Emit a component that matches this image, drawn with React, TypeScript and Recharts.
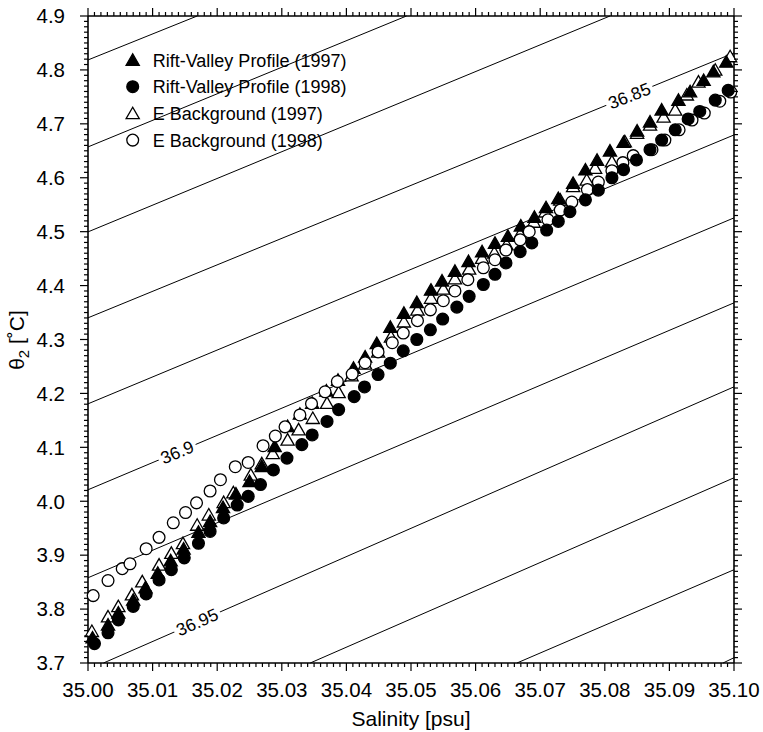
import { Label, Legend, Scatter, ScatterChart, XAxis, YAxis } from "recharts";

const FONT = '"Liberation Sans", Arial, Helvetica, sans-serif';

// Rift-Valley Profile (1997): salinity [psu] / theta2 [degC]
const RV97_S = [35.0007, 35.0031, 35.0047, 35.007, 35.0089, 35.0108, 35.0128, 35.0148, 35.0171, 35.0189, 35.0209, 35.0229, 35.025, 35.0269, 35.0289, 35.0309, 35.0328, 35.0347, 35.0369, 35.0387, 35.0411, 35.0429, 35.0447, 35.0468, 35.0489, 35.0509, 35.0531, 35.0548, 35.0568, 35.0589, 35.061, 35.063, 35.065, 35.067, 35.0691, 35.0709, 35.0728, 35.0751, 35.077, 35.0788, 35.0808, 35.0829, 35.085, 35.087, 35.0888, 35.0914, 35.0932, 35.0953, 35.0968, 35.0988];
const RV97_T = [3.747, 3.771, 3.793, 3.817, 3.84, 3.867, 3.89, 3.912, 3.943, 3.963, 3.989, 4.014, 4.037, 4.065, 4.102, 4.139, 4.162, 4.182, 4.205, 4.225, 4.247, 4.268, 4.293, 4.323, 4.349, 4.369, 4.392, 4.409, 4.427, 4.445, 4.463, 4.479, 4.492, 4.511, 4.527, 4.545, 4.562, 4.59, 4.615, 4.633, 4.65, 4.666, 4.687, 4.704, 4.726, 4.744, 4.76, 4.781, 4.797, 4.815];

// Rift-Valley Profile (1998)
const RV98_S = [35.001, 35.0031, 35.0047, 35.007, 35.009, 35.011, 35.0129, 35.0149, 35.0171, 35.0189, 35.021, 35.0231, 35.0248, 35.0267, 35.0287, 35.0308, 35.0331, 35.0347, 35.037, 35.0388, 35.0412, 35.0428, 35.0449, 35.0468, 35.0488, 35.0509, 35.053, 35.0549, 35.0571, 35.059, 35.0612, 35.063, 35.0647, 35.0669, 35.0687, 35.071, 35.0728, 35.0746, 35.077, 35.079, 35.0811, 35.0829, 35.0849, 35.087, 35.0888, 35.0909, 35.0929, 35.0947, 35.0971, 35.0991];
const RV98_T = [3.736, 3.756, 3.78, 3.805, 3.828, 3.854, 3.873, 3.895, 3.922, 3.944, 3.969, 3.993, 4.009, 4.031, 4.058, 4.08, 4.105, 4.123, 4.148, 4.17, 4.194, 4.212, 4.235, 4.256, 4.279, 4.3, 4.318, 4.338, 4.36, 4.38, 4.402, 4.421, 4.442, 4.463, 4.479, 4.503, 4.519, 4.537, 4.559, 4.577, 4.6, 4.615, 4.633, 4.652, 4.67, 4.689, 4.709, 4.723, 4.744, 4.762];

// E Background (1997)
const EB97_S = [35.0006, 35.0031, 35.0047, 35.0068, 35.0084, 35.011, 35.0129, 35.0147, 35.0169, 35.0187, 35.021, 35.0225, 35.0252, 35.0269, 35.0286, 35.0309, 35.0326, 35.0348, 35.037, 35.0388, 35.0408, 35.0429, 35.0449, 35.0469, 35.0489, 35.051, 35.0531, 35.055, 35.0568, 35.059, 35.061, 35.0629, 35.0648, 35.0669, 35.069, 35.0708, 35.0731, 35.0751, 35.0772, 35.0785, 35.0811, 35.0831, 35.085, 35.087, 35.0891, 35.0909, 35.0927, 35.0945, 35.0971, 35.0994];
const EB97_T = [3.759, 3.786, 3.805, 3.827, 3.851, 3.882, 3.904, 3.922, 3.956, 3.975, 3.998, 4.016, 4.049, 4.07, 4.089, 4.114, 4.133, 4.154, 4.182, 4.202, 4.233, 4.255, 4.277, 4.305, 4.333, 4.355, 4.377, 4.394, 4.413, 4.431, 4.451, 4.461, 4.476, 4.496, 4.518, 4.537, 4.559, 4.584, 4.596, 4.618, 4.63, 4.667, 4.683, 4.698, 4.713, 4.726, 4.754, 4.778, 4.8, 4.825];

// E Background (1998)
const EB98_S = [35.0008, 35.0031, 35.0053, 35.0065, 35.009, 35.011, 35.0132, 35.0151, 35.0168, 35.0189, 35.0205, 35.0228, 35.0248, 35.0271, 35.029, 35.0305, 35.0328, 35.0346, 35.0367, 35.0386, 35.0409, 35.0429, 35.0449, 35.0471, 35.0488, 35.051, 35.053, 35.055, 35.0568, 35.0588, 35.0612, 35.063, 35.0647, 35.0669, 35.0683, 35.0712, 35.0731, 35.0749, 35.0773, 35.079, 35.0811, 35.0828, 35.0844, 35.0873, 35.0893, 35.0915, 35.0935, 35.0954, 35.0978, 35.0995];
const EB98_T = [3.825, 3.853, 3.875, 3.884, 3.912, 3.933, 3.96, 3.979, 3.997, 4.019, 4.04, 4.064, 4.072, 4.103, 4.121, 4.138, 4.16, 4.181, 4.203, 4.222, 4.236, 4.257, 4.277, 4.294, 4.312, 4.335, 4.355, 4.372, 4.39, 4.411, 4.433, 4.448, 4.466, 4.485, 4.5, 4.522, 4.54, 4.555, 4.578, 4.592, 4.613, 4.628, 4.641, 4.652, 4.67, 4.689, 4.707, 4.72, 4.742, 4.759];

// isopycnals (sigma2), ends where they meet the frame
const ISO_LEVELS = [36.775, 36.8, 36.825, 36.85, 36.875, 36.9, 36.925, 36.95, 36.975, 37.0, 37.025];
const ISO_S0 = [35.0, 35.0, 35.0, 35.0, 35.0, 35.0, 35.0, 35.0024, 35.0344, 35.0664, 35.0983];
const ISO_T0 = [4.8185, 4.6572, 4.4996, 4.3402, 4.1807, 4.0213, 3.8581, 3.7, 3.7, 3.7, 3.7];
const ISO_S1 = [35.0169, 35.0493, 35.0808, 35.1, 35.1, 35.1, 35.1, 35.1, 35.1, 35.1, 35.1];
const ISO_T1 = [4.9, 4.9, 4.9, 4.8315, 4.6794, 4.5256, 4.368, 4.2122, 4.0435, 3.873, 3.7098];

const ISO_LABELS = ["36.85", "36.9", "36.95"];
const ISO_LABEL_S = [35.0838, 35.0138, 35.0169];
const ISO_LABEL_T = [4.752, 4.091, 3.776];
const LABEL_ANGLE: Record<string, number> = { "36.85": -21.5, "36.9": -22.8, "36.95": -23.6 };

const X_TICKS = [35.0, 35.01, 35.02, 35.03, 35.04, 35.05, 35.06, 35.07, 35.08, 35.09, 35.1];
const Y_TICKS = [3.7, 3.8, 3.9, 4.0, 4.1, 4.2, 4.3, 4.4, 4.5, 4.6, 4.7, 4.8, 4.9];

const NAMES = [
  "Rift-Valley Profile (1997)",
  "Rift-Valley Profile (1998)",
  "E Background (1997)",
  "E Background (1998)",
];

const zip = (s: number[], t: number[]) => s.map((v, i) => ({ s: v, t: t[i] }));

function withMinor(major: number[], parts: number, digits: number) {
  const out: number[] = [];
  for (let i = 0; i < major.length - 1; i++) {
    const step = (major[i + 1] - major[i]) / parts;
    for (let k = 0; k < parts; k++) out.push(+(major[i] + k * step).toFixed(digits));
  }
  out.push(major[major.length - 1]);
  return out;
}

const X_ALL = withMinor(X_TICKS, 10, 3);
const Y_ALL = withMinor(Y_TICKS, 10, 2);
const isMajor = (v: number, major: number[]) => major.some((m) => Math.abs(m - v) < 1e-7);

const MAJOR = 8;
const MINOR = 4;
const TICK_W = 1.2;

// tick marks: tickSize/tickMargin are 0, so x/y sit on the axis line
const tickMark = (dir: "down" | "up" | "left" | "right") =>
  function TickMark({ x, y, payload }: any) {
    const major = isMajor(payload.value, dir === "down" || dir === "up" ? X_TICKS : Y_TICKS);
    const len = major ? MAJOR : MINOR;
    const d =
      dir === "down" ? `M${x},${y}V${y + len}` :
      dir === "up" ? `M${x},${y}V${y - len}` :
      dir === "left" ? `M${x},${y}H${x - len}` :
      `M${x},${y}H${x + len}`;
    return <path d={d} stroke="#000" strokeWidth={TICK_W} fill="none" />;
  };

function XLabelTick({ x, y, payload }: any) {
  return (
    <text x={x} y={y + 25.7} textAnchor="middle" fontSize={20.5} fontFamily={FONT} fill="#000">
      {payload.value.toFixed(2)}
    </text>
  );
}

function YLabelTick({ x, y, payload }: any) {
  return (
    <text x={x - 15} y={y + 7.3} textAnchor="end" fontSize={20.5} fontFamily={FONT} fill="#000">
      {payload.value.toFixed(1)}
    </text>
  );
}

function Tri({ cx, cy, filled }: { cx: number; cy: number; filled?: boolean }) {
  return (
    <polygon
      points={`${cx},${cy - 6.2} ${cx - 6.6},${cy + 5.3} ${cx + 6.6},${cy + 5.3}`}
      fill={filled ? "#000" : "#fff"}
      stroke="#000"
      strokeWidth={1.3}
    />
  );
}

function Dot({ cx, cy, filled }: { cx: number; cy: number; filled?: boolean }) {
  return <circle cx={cx} cy={cy} r={5.9} fill={filled ? "#000" : "#fff"} stroke="#000" strokeWidth={1.3} />;
}

function Marker({ idx, cx, cy }: { idx: number; cx: number; cy: number }) {
  if (idx === 0) return <Tri cx={cx} cy={cy} filled />;
  if (idx === 1) return <Dot cx={cx} cy={cy} filled />;
  if (idx === 2) return <Tri cx={cx} cy={cy} />;
  return <Dot cx={cx} cy={cy} />;
}

function IsoLabel({ cx, cy, payload }: any) {
  const text: string = payload.label;
  const fs = 17.5;
  const w = ((text.length - 1) * 0.556 + 0.278) * fs + 6;
  return (
    <g transform={`rotate(${LABEL_ANGLE[text]} ${cx} ${cy})`}>
      <rect x={cx - w / 2} y={cy - 7} width={w} height={14} fill="#fff" />
      <text x={cx} y={cy + 6.2} textAnchor="middle" fontSize={fs} fontFamily={FONT} fill="#000">
        {text}
      </text>
    </g>
  );
}

// legend plus the x title, drawn in one overlay in page coordinates
function Overlay() {
  return (
    <svg width={763} height={732} style={{ pointerEvents: "none" }}>
      {NAMES.map((name, i) => {
        const cy = 60 + i * 26.7;
        return (
          <g key={name}>
            <Marker idx={i} cx={132.7} cy={cy} />
            <text x={152.7} y={cy + 6.5} fontSize={18} fontFamily={FONT} fill="#000">
              {name}
            </text>
          </g>
        );
      })}
      <text x={411} y={726} textAnchor="middle" fontSize={21} fontFamily={FONT} fill="#000">
        Salinity [psu]
      </text>
    </svg>
  );
}

// axis ids: the tick-mark axes must stack next to the frame, labels outside
const XID = "b_xlab";
const YID = "b_ylab";
const XMARKS = "a_xmarks";
const YMARKS = "a_ymarks";

export default function App() {
  const rv97 = zip(RV97_S, RV97_T);
  const rv98 = zip(RV98_S, RV98_T);
  const eb97 = zip(EB97_S, EB97_T);
  const eb98 = zip(EB98_S, EB98_T);
  const labels = ISO_LABELS.map((label, i) => ({ s: ISO_LABEL_S[i], t: ISO_LABEL_T[i], label }));
  const frame = zip(ISO_S0, ISO_T0);
  const axisLine = { stroke: "#000", strokeWidth: 1.6 };
  const common = { type: "number" as const, interval: 0 as const, tickSize: 0, tickMargin: 0, tickLine: false };
  const ids = { xAxisId: XID, yAxisId: YID };

  return (
    <div style={{ position: "absolute", left: 0, top: 0 }}>
      <ScatterChart width={763} height={732} margin={{ top: 8, right: 21, bottom: 0, left: 0 }}>
        <XAxis {...common} xAxisId={XID} dataKey="s" domain={[35, 35.1]} ticks={X_TICKS} height={61} axisLine={false} tick={XLabelTick} />
        <XAxis
          {...common}
          xAxisId={XMARKS}
          dataKey="s"
          domain={[35, 35.1]}
          allowDataOverflow
          ticks={X_ALL}
          height={8}
          axisLine={axisLine}
          tick={tickMark("down")}
        />
        <XAxis
          {...common}
          xAxisId="top"
          orientation="top"
          dataKey="s"
          domain={[35, 35.1]}
          allowDataOverflow
          ticks={X_ALL}
          height={8}
          axisLine={axisLine}
          tick={tickMark("up")}
        />
        <YAxis {...common} yAxisId={YID} dataKey="t" domain={[3.7, 4.9]} ticks={Y_TICKS} width={80} axisLine={false} tick={YLabelTick}>
          <Label
            content={() => (
              <text
                x={24}
                y={340}
                transform="rotate(-90 24 340)"
                textAnchor="middle"
                fontSize={21}
                fontFamily={FONT}
                fill="#000"
              >
                θ<tspan dy={5} fontSize={15}>2</tspan>
                <tspan dy={-5}> [˚C]</tspan>
              </text>
            )}
          />
        </YAxis>
        <YAxis
          {...common}
          yAxisId={YMARKS}
          dataKey="t"
          domain={[3.7, 4.9]}
          allowDataOverflow
          ticks={Y_ALL}
          width={8}
          axisLine={axisLine}
          tick={tickMark("left")}
        />
        <YAxis
          {...common}
          yAxisId="right"
          orientation="right"
          dataKey="t"
          domain={[3.7, 4.9]}
          allowDataOverflow
          ticks={Y_ALL}
          width={8}
          axisLine={axisLine}
          tick={tickMark("right")}
        />

        {/* invisible series bound to the frame axes */}
        <Scatter name="frame-tr" xAxisId="top" yAxisId="right" data={frame} shape={() => <g />} legendType="none" isAnimationActive={false} />
        <Scatter name="frame-bl" xAxisId={XMARKS} yAxisId={YMARKS} data={frame} shape={() => <g />} legendType="none" isAnimationActive={false} />

        {ISO_LEVELS.map((lv, i) => (
          <Scatter
            key={lv}
            {...ids}
            name={`iso-${lv}`}
            data={[
              { s: ISO_S0[i], t: ISO_T0[i] },
              { s: ISO_S1[i], t: ISO_T1[i] },
            ]}
            line={{ stroke: "#000", strokeWidth: 1 }}
            shape={() => <g />}
            legendType="none"
            isAnimationActive={false}
          />
        ))}
        <Scatter {...ids} name="labels" data={labels} shape={IsoLabel} legendType="none" isAnimationActive={false} />

        <Scatter {...ids} name={NAMES[2]} data={eb97} shape={(p: any) => <Marker idx={2} cx={p.cx} cy={p.cy} />} isAnimationActive={false} />
        <Scatter {...ids} name={NAMES[0]} data={rv97} shape={(p: any) => <Marker idx={0} cx={p.cx} cy={p.cy} />} isAnimationActive={false} />
        <Scatter {...ids} name={NAMES[3]} data={eb98} shape={(p: any) => <Marker idx={3} cx={p.cx} cy={p.cy} />} isAnimationActive={false} />
        <Scatter {...ids} name={NAMES[1]} data={rv98} shape={(p: any) => <Marker idx={1} cx={p.cx} cy={p.cy} />} isAnimationActive={false} />

        <Legend
          layout="vertical"
          align="center"
          verticalAlign="middle"
          content={() => <Overlay />}
          wrapperStyle={{ left: 0, top: 0, width: 763, height: 732, pointerEvents: "none" }}
        />
      </ScatterChart>
    </div>
  );
}
